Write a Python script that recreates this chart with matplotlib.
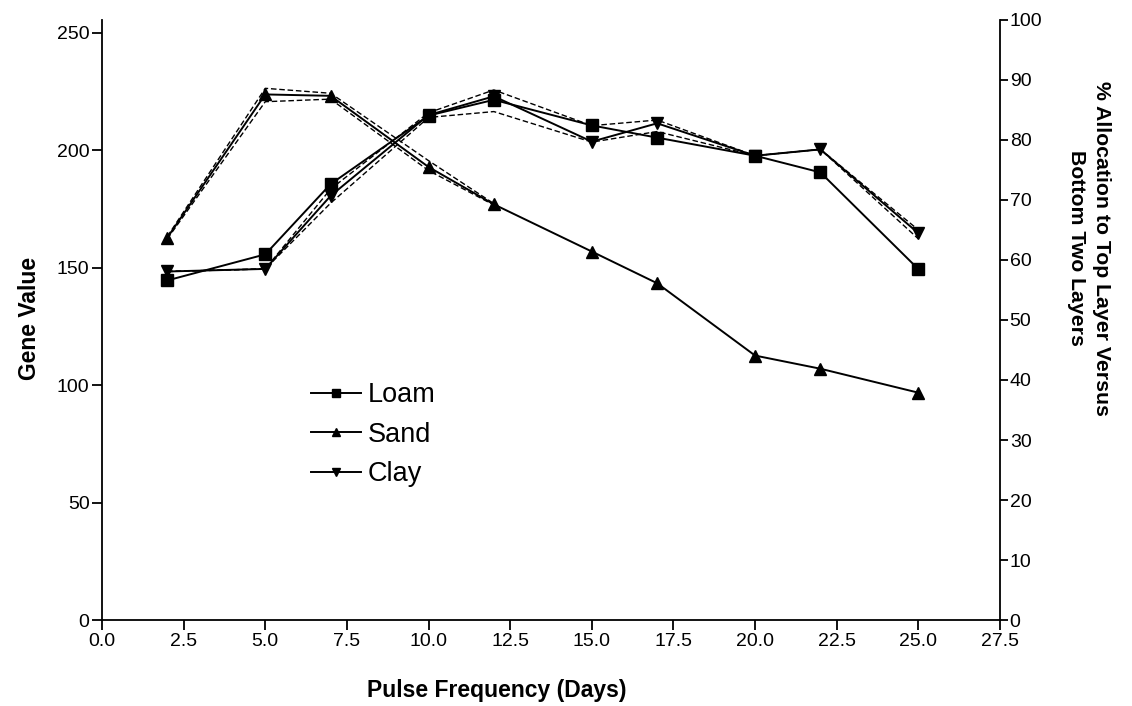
import matplotlib
matplotlib.use("Agg")
import matplotlib.pyplot as plt
import numpy as np

plt.rcParams['font.family'] = ['Liberation Sans', 'DejaVu Sans']

# Pulse frequency (days)
days = [2, 5, 7, 10, 12, 15, 17, 20, 22, 25]

# Gene value per soil type
loam = [144.6, 155.7, 185.6, 214.8, 221.5, 210.6, 205.4, 197.7, 190.6, 149.4]
sand = [162.8, 223.8, 223.2, 192.9, 177.0, 156.9, 143.4, 112.6, 107.0, 96.8]
clay = [148.4, 149.5, 180.6, 215.0, 223.0, 203.7, 211.5, 197.7, 200.4, 164.7]

# dashed bands (upper / lower)
sand_days = [2, 5, 7, 10, 12]
sand_hi = [163.3, 226.4, 224.3, 195.6, 177.3]
sand_lo = [162.3, 220.7, 221.8, 191.4, 176.7]

clay_hi = [148.4, 149.5, 183.5, 216.0, 225.7, 210.5, 212.9, 197.7, 200.4, 166.1]
clay_lo = [148.4, 149.5, 177.5, 214.0, 216.5, 203.5, 208.0, 197.7, 200.4, 162.3]

x_ticks = np.arange(0, 27.6, 2.5)
left_ticks = [0, 50, 100, 150, 200, 250]
right_ticks = list(range(0, 101, 10))

fig = plt.figure(figsize=(11.32, 7.06), dpi=100)
ax = fig.add_axes([0.0901, 0.1218, 0.7933, 0.8499])

dash = dict(color='black', linewidth=1.0, linestyle=(0, (4, 2)), zorder=2)
ax.plot(sand_days, sand_hi, **dash)
ax.plot(sand_days, sand_lo, **dash)
ax.plot(days, clay_hi, **dash)
ax.plot(days, clay_lo, **dash)

ax.plot(days, loam, color='black', linewidth=1.4, marker='s', markersize=8.5,
        label='Loam', zorder=3)
ax.plot(days, sand, color='black', linewidth=1.4, marker='^', markersize=8.5,
        label='Sand', zorder=3)
ax.plot(days, clay, color='black', linewidth=1.4, marker='v', markersize=8.5,
        label='Clay', zorder=3)

ax.set_xlim(0, 27.5)
ax.set_ylim(0, 255.5)
ax.set_xticks(x_ticks)
ax.set_xticklabels(['%.1f' % v for v in x_ticks])
ax.set_yticks(left_ticks)
ax.spines['top'].set_visible(False)
ax.spines['right'].set_visible(False)
for s in ['left', 'bottom']:
    ax.spines[s].set_linewidth(1.3)
ax.tick_params(direction='out', length=7, width=1.3, labelsize=14, pad=2)

ax2 = ax.twinx()
ax2.set_ylim(0, 100)
ax2.set_yticks(right_ticks)
ax2.spines['top'].set_visible(False)
ax2.spines['left'].set_visible(False)
ax2.spines['bottom'].set_visible(False)
ax2.spines['right'].set_linewidth(1.3)
ax2.tick_params(direction='out', length=6, width=1.3, labelsize=14, pad=1)

# axis titles placed as in the reference
fig.text(497 / 1132, 1 - 690 / 706, 'Pulse Frequency (Days)', fontsize=16.5,
         fontweight='bold', ha='center', va='center')
fig.text(30 / 1132, 1 - 318 / 706, 'Gene Value', fontsize=16.5,
         fontweight='bold', ha='center', va='center', rotation=90)
fig.text(1089 / 1132, 1 - 248 / 706, '% Allocation to Top Layer Versus\nBottom Two Layers',
         fontsize=15.3, fontweight='bold', ha='center', va='center', rotation=270,
         multialignment='center', linespacing=1.35)

ax.legend(loc='upper left', bbox_to_anchor=(311 / 1132, 1 - 382 / 706),
          bbox_transform=fig.transFigure, frameon=False, fontsize=19.5,
          handlelength=1.85, handletextpad=0.25, labelspacing=0.5,
          markerscale=0.7, borderpad=0, borderaxespad=0)

fig.savefig('out.png', dpi=100)
